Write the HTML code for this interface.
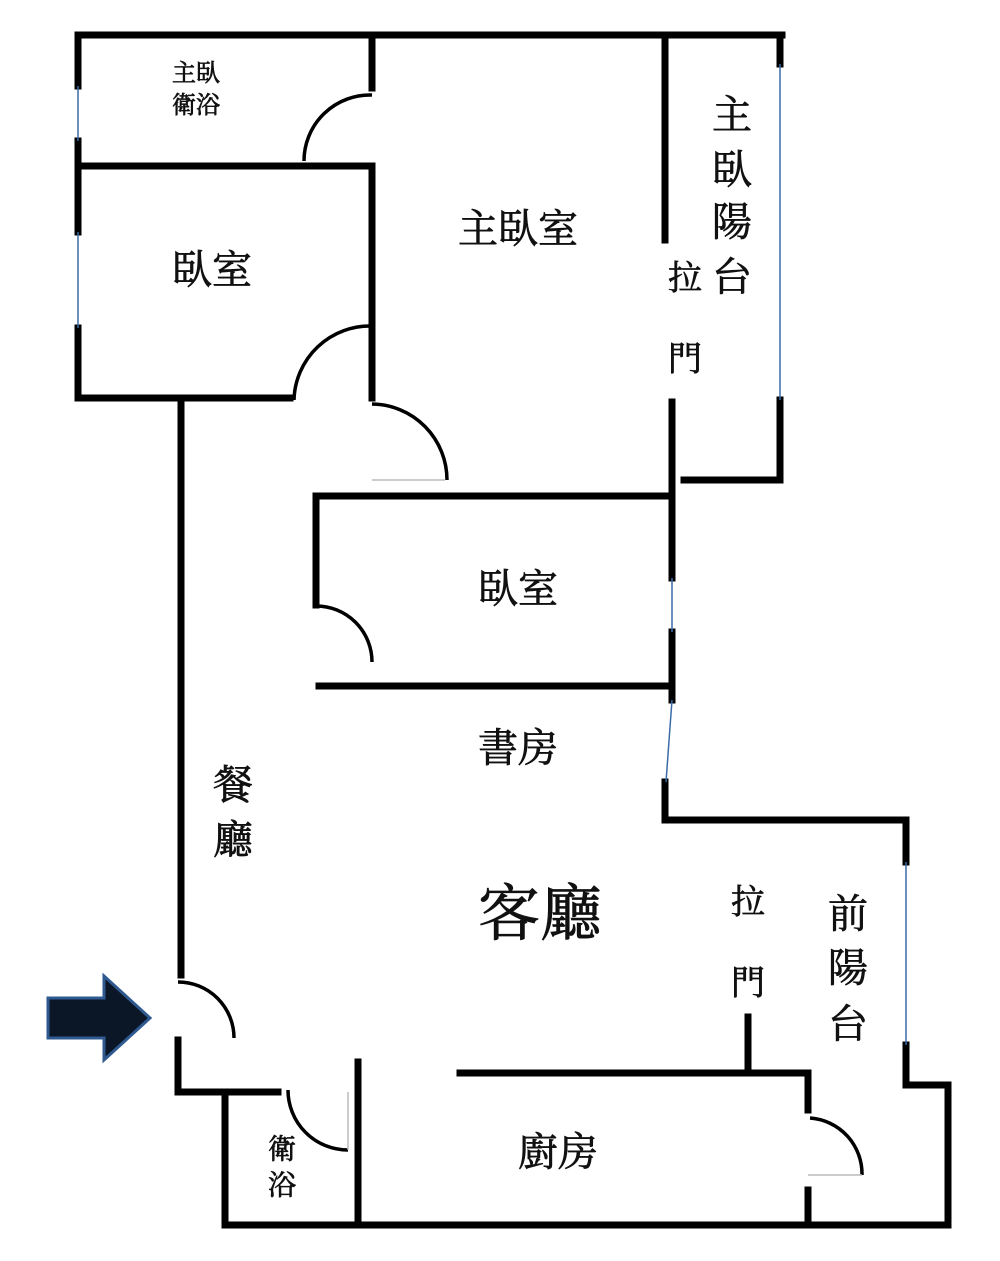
<!DOCTYPE html>
<html><head><meta charset="utf-8"><style>
html,body{margin:0;padding:0;background:#fff;}
svg{display:block;}
text{font-family:"Liberation Serif","Noto Serif CJK SC",serif;fill:#111;stroke:#111;stroke-width:0.7;text-anchor:middle;dominant-baseline:central;}
</style></head><body>
<svg width="1000" height="1261" viewBox="0 0 1000 1261" xmlns="http://www.w3.org/2000/svg">
<g stroke="#000" stroke-width="7" fill="none" stroke-linecap="square">
<line x1="78" y1="35" x2="782" y2="35"/>
<line x1="78" y1="35" x2="78" y2="86"/>
<line x1="78" y1="141" x2="78" y2="232"/>
<line x1="78" y1="328" x2="78" y2="398"/>
<line x1="78" y1="398" x2="290" y2="398"/>
<line x1="78" y1="166" x2="372" y2="166"/>
<line x1="372" y1="35" x2="372" y2="88"/>
<line x1="372" y1="166" x2="372" y2="398"/>
<line x1="181" y1="398" x2="181" y2="975"/>
<line x1="665" y1="35" x2="665" y2="240"/>
<line x1="780" y1="35" x2="780" y2="64"/>
<line x1="780" y1="400" x2="780" y2="480"/>
<line x1="684" y1="480" x2="780" y2="480"/>
<line x1="672" y1="402" x2="672" y2="578"/>
<line x1="672" y1="632" x2="672" y2="700"/>
<line x1="316" y1="496" x2="665" y2="496"/>
<line x1="316" y1="496" x2="316" y2="605"/>
<line x1="319" y1="686" x2="665" y2="686"/>
<line x1="665" y1="782" x2="665" y2="820"/>
<line x1="665" y1="820" x2="906" y2="820"/>
<line x1="906" y1="820" x2="906" y2="862"/>
<line x1="906" y1="1045" x2="906" y2="1085"/>
<line x1="906" y1="1085" x2="948" y2="1085"/>
<line x1="948" y1="1085" x2="948" y2="1225"/>
<line x1="225" y1="1225" x2="948" y2="1225"/>
<line x1="178" y1="1040" x2="178" y2="1092"/>
<line x1="178" y1="1092" x2="278" y2="1092"/>
<line x1="225" y1="1092" x2="225" y2="1225"/>
<line x1="358" y1="1062" x2="358" y2="1225"/>
<line x1="460" y1="1073" x2="808" y2="1073"/>
<line x1="748" y1="1017" x2="748" y2="1073"/>
<line x1="808" y1="1073" x2="808" y2="1110"/>
<line x1="808" y1="1190" x2="808" y2="1225"/>
</g>
<g stroke="#3a6aa8" stroke-width="1.5" fill="none">
<line x1="78" y1="86" x2="78" y2="141"/>
<line x1="78" y1="232" x2="78" y2="328"/>
<line x1="780" y1="64" x2="780" y2="400"/>
<line x1="672" y1="578" x2="672" y2="632"/>
<line x1="672" y1="700" x2="666" y2="782"/>
<line x1="906" y1="862" x2="906" y2="1045"/>
</g>
<g stroke="#000" stroke-width="3.5" fill="none">
<path d="M372 95 A66 66 0 0 0 304 161"/>
<path d="M372 326 A76 76 0 0 0 294 400"/>
<path d="M372 404 A76 76 0 0 1 447 480"/>
<path d="M316 606 A56 56 0 0 1 372 662"/>
<path d="M178 982 A56 56 0 0 1 234 1038"/>
<path d="M288 1090 A60 60 0 0 0 348 1150"/>
<path d="M810 1118 A56 56 0 0 1 862 1175"/>
</g>
<g stroke="#bbb" stroke-width="1.5">
<line x1="372" y1="480" x2="445" y2="480"/>
<line x1="348" y1="1092" x2="348" y2="1150"/>
<line x1="808" y1="1175" x2="862" y2="1175"/>
</g>
<path d="M48 998 L104 998 L104 976 L150 1018 L104 1060 L104 1038 L48 1038 Z" fill="#0b1626" stroke="#2f5a90" stroke-width="3"/>
<text x="196" y="74" font-size="24">主臥</text>
<text x="196" y="106" font-size="24">衛浴</text>
<text x="212" y="270" font-size="40">臥室</text>
<text x="518" y="229" font-size="40">主臥室</text>
<text x="732" y="115" font-size="40">主</text>
<text x="732" y="170" font-size="40">臥</text>
<text x="732" y="222" font-size="40">陽</text>
<text x="732" y="277" font-size="40">台</text>
<text x="685" y="279" font-size="34">拉</text>
<text x="685" y="360" font-size="34">門</text>
<text x="518" y="589" font-size="40">臥室</text>
<text x="518" y="748" font-size="40">書房</text>
<text x="233" y="785" font-size="40">餐</text>
<text x="233" y="840" font-size="40">廳</text>
<text x="540" y="915" font-size="62">客廳</text>
<text x="748" y="903" font-size="34">拉</text>
<text x="748" y="984" font-size="34">門</text>
<text x="848" y="914" font-size="40">前</text>
<text x="848" y="968" font-size="40">陽</text>
<text x="848" y="1024" font-size="40">台</text>
<text x="282" y="1150" font-size="28">衛</text>
<text x="282" y="1186" font-size="28">浴</text>
<text x="558" y="1152" font-size="40">廚房</text>
</svg>
</body></html>
